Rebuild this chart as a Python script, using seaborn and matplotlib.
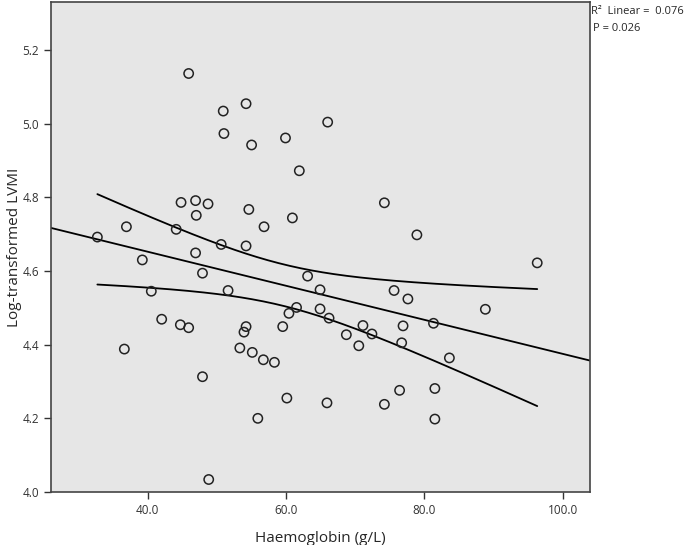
import numpy as np
import pandas as pd
import matplotlib
matplotlib.use("Agg")
import matplotlib.pyplot as plt
import seaborn as sns

# values
haemoglobin = [45.9, 54.2, 50.9, 51.0, 55.0, 44.8, 46.9, 48.7, 47.0, 54.6,
               56.8, 36.9, 44.1, 32.7, 50.6, 54.2, 66.0, 59.9, 61.9, 74.2,
               60.9, 78.9, 39.2, 46.9, 47.9, 40.5, 51.6, 42.0, 44.7, 45.9,
               54.2, 53.9, 59.5, 36.6, 53.3, 55.1, 56.7, 58.3, 47.9, 55.9,
               48.8, 63.1, 64.9, 75.6, 77.6, 61.5, 60.4, 64.9, 66.2, 68.7,
               71.1, 72.4, 70.5, 76.9, 76.7, 81.3, 83.6, 60.1, 65.9, 74.2,
               76.4, 81.5, 81.5, 96.3, 88.8]
log_lvmi = [5.136, 5.054, 5.034, 4.973, 4.942, 4.786, 4.791, 4.782, 4.751, 4.767,
            4.720, 4.720, 4.713, 4.692, 4.672, 4.668, 5.004, 4.961, 4.872, 4.785,
            4.744, 4.698, 4.630, 4.649, 4.594, 4.545, 4.547, 4.469, 4.454, 4.446,
            4.449, 4.434, 4.449, 4.388, 4.391, 4.379, 4.359, 4.352, 4.313, 4.200,
            4.034, 4.586, 4.549, 4.547, 4.524, 4.501, 4.485, 4.497, 4.472, 4.427,
            4.452, 4.429, 4.397, 4.451, 4.405, 4.458, 4.364, 4.255, 4.242, 4.238,
            4.276, 4.281, 4.198, 4.622, 4.496]
x_ticks = [40.0, 60.0, 80.0, 100.0]
y_ticks = [4.0, 4.2, 4.4, 4.6, 4.8, 5.0, 5.2]

df = pd.DataFrame({"hb": haemoglobin, "lvmi": log_lvmi})

sns.set_style("white")
plt.rcParams['font.family'] = ['Open Sans', 'DejaVu Sans']

fig = plt.figure(figsize=(6.85, 5.45), dpi=100)
ax = fig.add_axes([0.0745, 0.0972, 0.7865, 0.8991])
ax.set_facecolor("#e6e6e6")

xlim = (26.0, 103.9)

# linear fit and 95% confidence band of the mean
x = df["hb"].to_numpy()
y = df["lvmi"].to_numpy()
n = len(x)
slope, intercept = np.polyfit(x, y, 1)
resid = y - (slope * x + intercept)
s = np.sqrt(np.sum(resid ** 2) / (n - 2))
sxx = np.sum((x - x.mean()) ** 2)
t = 1.998

xf = np.linspace(*xlim, 200)
ax.plot(xf, slope * xf + intercept, color="black", lw=1.3)
xb = np.linspace(x.min(), x.max(), 200)
yb = slope * xb + intercept
half = t * s * np.sqrt(1 / n + (xb - x.mean()) ** 2 / sxx)
ax.plot(xb, yb + half, color="black", lw=1.3)
ax.plot(xb, yb - half, color="black", lw=1.3)

sns.scatterplot(data=df, x="hb", y="lvmi", ax=ax, s=45, marker="o",
                facecolor="none", edgecolor="#222222", linewidth=1.1, zorder=3)

ax.set_xlim(*xlim)
ax.set_ylim(4.0, 5.33)
ax.set_xticks(x_ticks)
ax.set_yticks(y_ticks)
ax.set_xticklabels([f"{v:.1f}" for v in x_ticks])
ax.set_yticklabels([f"{v:.1f}" for v in y_ticks])
ax.tick_params(direction="out", length=5, width=1, labelsize=8.5, colors="#333333",
               bottom=True, left=True)
for sp in ax.spines.values():
    sp.set_color("#444444")
    sp.set_linewidth(1.2)

ax.set_xlabel("Haemoglobin (g/L)", fontsize=11, labelpad=10)
ax.set_ylabel("Log-transformed LVMI", fontsize=11)
ax.yaxis.set_label_coords(-0.054, 0.5)

fig.text(0.863, 0.978, "R²  Linear =  0.076", fontsize=8, va="center")
fig.text(0.865, 0.948, "P = 0.026", fontsize=8, va="center")

plt.savefig("out.png", dpi=100)
